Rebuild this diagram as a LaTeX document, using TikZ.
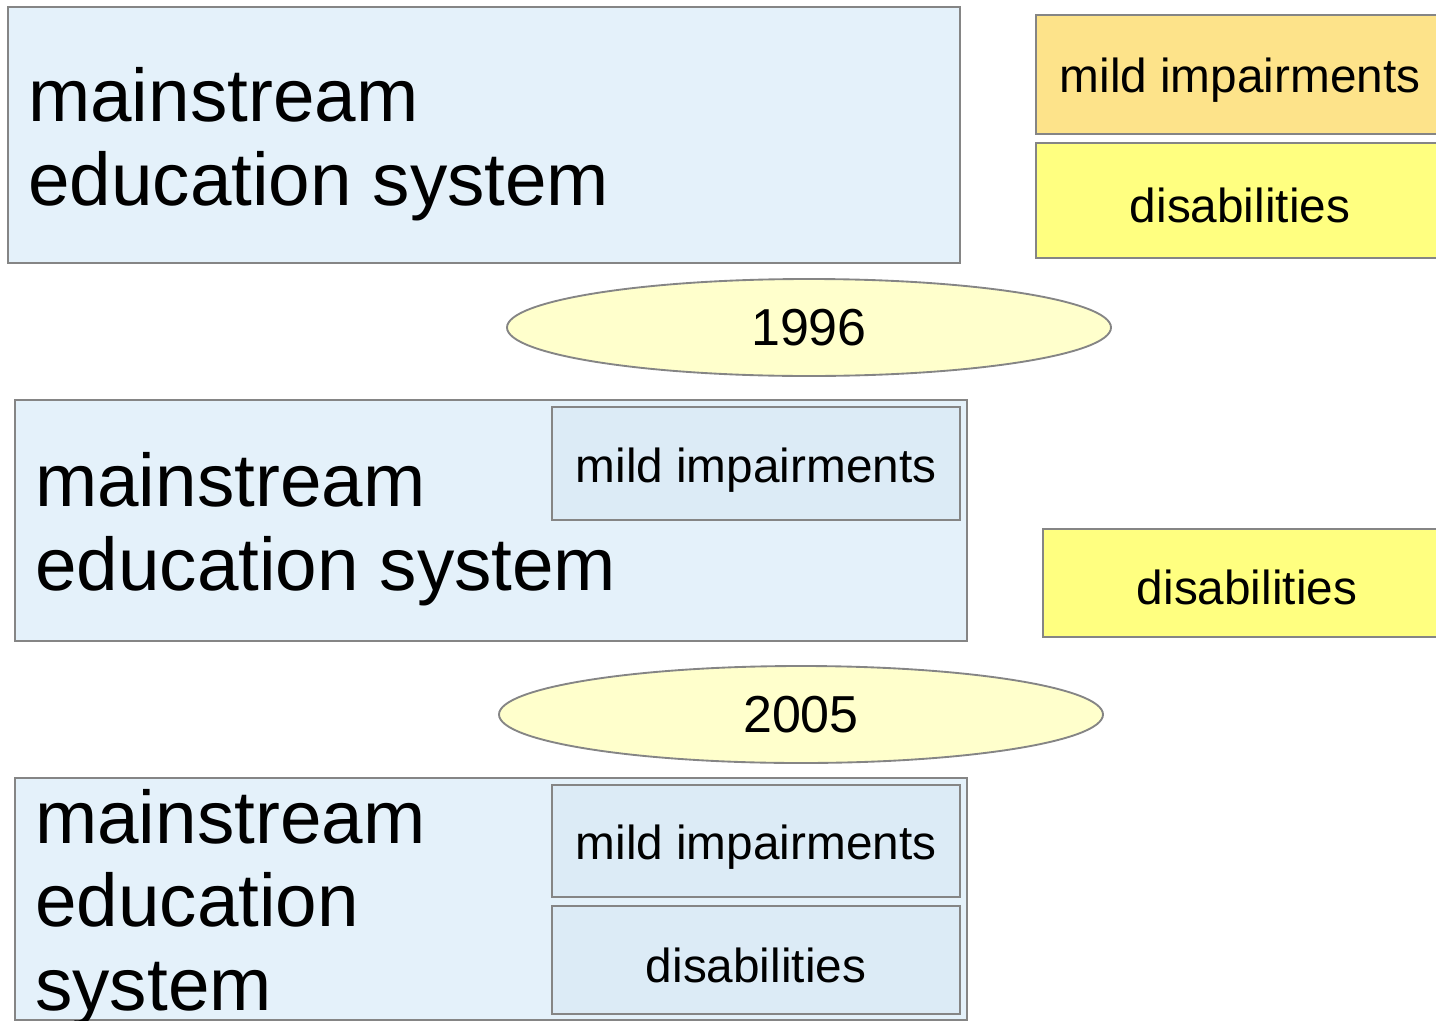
\documentclass[tikz,border=0pt]{standalone}
\usepackage{fontspec}
\setmainfont{Liberation Sans}
\usetikzlibrary{shapes.geometric}
\definecolor{bgblue}{HTML}{E4F1FA}
\definecolor{inblue}{HTML}{DCEBF6}
\definecolor{orng}{HTML}{FDE38A}
\definecolor{yel}{HTML}{FFFF80}
\definecolor{ellfill}{HTML}{FFFFCC}
\definecolor{edge}{HTML}{858585}
\tikzset{
  bx/.style={draw=edge, line width=1.4pt, rectangle, inner sep=0pt},
  big/.style={anchor=base west, inner sep=0pt, align=left, font=\fontsize{56}{62.3}\selectfont},
  mid/.style={inner sep=0pt, font=\fontsize{35.8}{40}\selectfont},
  yr/.style={draw=edge, line width=1.4pt, ellipse, fill=ellfill, inner sep=0pt, font=\fontsize{39}{44}\selectfont},
}
\begin{document}
\begin{tikzpicture}[x=0.75pt,y=-0.75pt]
\useasboundingbox (0,0) rectangle (1436,1021);
\clip (0,0) rectangle (1436,1021);
% top row
\node[bx, fill=bgblue, minimum width=952*0.75pt, minimum height=256*0.75pt] (boxA) at (484,135) {};
\node[big] (txtA) at (28,205) {mainstream\\education system};
\node[bx, fill=orng, minimum width=420*0.75pt, minimum height=119*0.75pt] (mildR) at (1246,74.5) {};
\node[mid] (mildRt) at (1240,80) {mild impairments};
\node[bx, fill=yel, minimum width=420*0.75pt, minimum height=115*0.75pt] (disR) at (1246,200.5) {};
\node[mid] (disRt) at (1240,205) {disabilities};
% 1996
\node[yr, minimum width=604*0.75pt, minimum height=97*0.75pt] (y1) at (809,327.5) {1996};
% middle row
\node[bx, fill=bgblue, minimum width=952*0.75pt, minimum height=241*0.75pt] (boxB) at (491,520.5) {};
\node[bx, fill=inblue, minimum width=408*0.75pt, minimum height=113*0.75pt] (mildB) at (756,463.5) {};
\node[mid] (mildBt) at (756,470) {mild impairments};
\node[big] (txtB) at (35,590) {mainstream\\education system};
\node[bx, fill=yel, minimum width=420*0.75pt, minimum height=108*0.75pt] (disB) at (1253,583) {};
\node[mid] (disBt) at (1247,587) {disabilities};
% 2005
\node[yr, minimum width=604*0.75pt, minimum height=97*0.75pt] (y2) at (801,714.5) {2005};
% bottom row
\node[bx, fill=bgblue, minimum width=952*0.75pt, minimum height=242*0.75pt] (boxC) at (491,899) {};
\node[bx, fill=inblue, minimum width=408*0.75pt, minimum height=112*0.75pt] (mildC) at (756,841) {};
\node[mid] (mildCt) at (756,847) {mild impairments};
\node[bx, fill=inblue, minimum width=408*0.75pt, minimum height=108*0.75pt] (disC) at (756,960) {};
\node[mid] (disCt) at (756,965) {disabilities};
\node[big] (txtC) at (35,1010) {mainstream\\education\\system};
\end{tikzpicture}
\end{document}
